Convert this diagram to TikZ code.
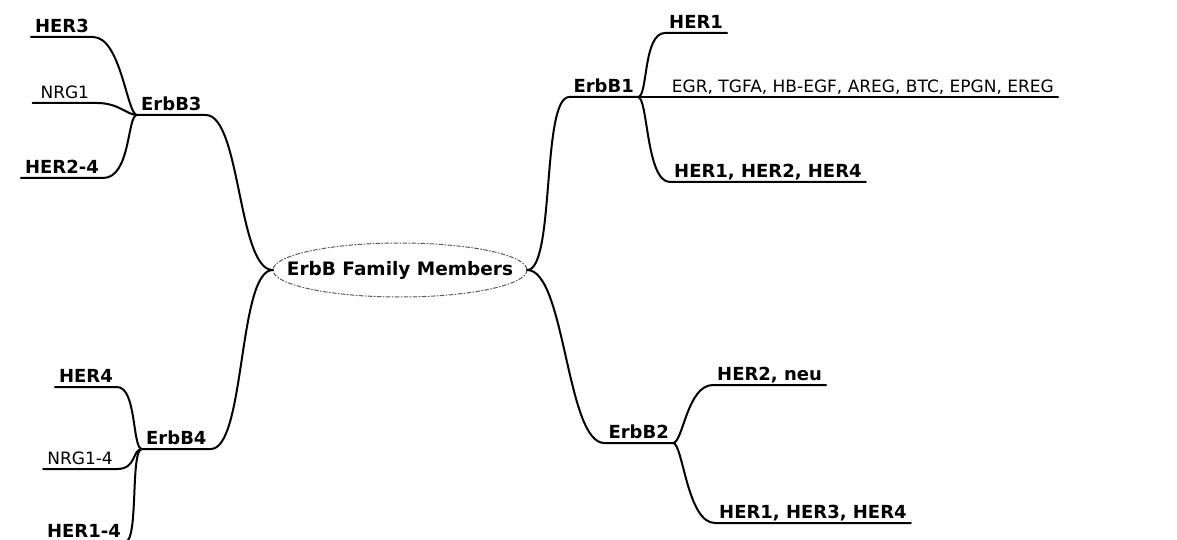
\documentclass[tikz,border=0pt]{standalone}
\usepackage{fontspec}
\setmainfont{DejaVu Sans}
\usetikzlibrary{positioning}

\begin{document}
\begin{tikzpicture}[x=1pt,y=-1pt,line cap=round,line join=round,
  hub/.style={font=\fontsize{18.5}{20}\bfseries,minimum width=254pt,minimum height=54pt,inner sep=0pt},
  topic/.style={font=\fontsize{18}{20}\bfseries,inner xsep=4pt,inner ysep=4pt,text depth=0pt},
  leaf/.style={font=\fontsize{18}{20}\bfseries,inner xsep=4pt,inner ysep=4pt,text depth=0pt},
  leafplain/.style={font=\fontsize{17}{20}\selectfont,inner xsep=4pt,inner ysep=4pt,text depth=0pt},
  link/.style={draw=black,line width=2pt}]
\useasboundingbox (0,0) rectangle (1177,540);
% centre
\node[hub] (hub) at (400,270) {ErbB Family Members};
\draw[draw=black!65,line width=1pt,dash pattern=on 4pt off 2pt on 1pt off 2pt] (hub.center) ellipse [x radius=127,y radius=27];
% main topics
\node[topic,anchor=south west] (b3) at (137,115) {ErbB3};
\node[topic,anchor=south west] (b4) at (142,449) {ErbB4};
\node[topic,anchor=south east] (b1) at (638,97) {ErbB1};
\node[topic,anchor=south east] (b2) at (673,443) {ErbB2};
% leaves of ErbB3
\node[leaf,anchor=south east] (her3) at (93,37) {HER3};
\node[leafplain,anchor=south east,minimum width=64pt] (nrg1) at (97,103) {NRG1};
\node[leaf,anchor=south east] (her24) at (103,178) {HER2-4};
% leaves of ErbB4
\node[leaf,anchor=south east] (her4) at (117,387) {HER4};
\node[leafplain,anchor=south east] (nrg14) at (117,469) {NRG1-4};
\node[leaf,anchor=south east] (her14) at (125,542) {HER1-4};
% leaves of ErbB1
\node[leaf,anchor=south west] (her1) at (665,33) {HER1};
\node[leafplain,anchor=south east] (egf) at (1058,97) {EGR, TGFA, HB-EGF, AREG, BTC, EPGN, EREG};
\node[leaf,anchor=south west] (her124) at (670,182) {HER1, HER2, HER4};
% leaves of ErbB2
\node[leaf,anchor=south west] (her2neu) at (713,385) {HER2, neu};
\node[leaf,anchor=south west] (her134) at (715,523) {HER1, HER3, HER4};

% centre to topics
\draw[link] (hub.west) .. controls +(-35,0) and +(35,0) .. (b3.south east) -- (b3.south west);
\draw[link] (hub.west) .. controls +(-35,0) and +(35,0) .. (b4.south east) -- (b4.south west);
\draw[link] (hub.east) .. controls +(28,0) and +(-28,0) .. (b1.south west) -- (b1.south east);
\draw[link] (hub.east) .. controls +(38,0) and +(-38,0) .. (b2.south west) -- (b2.south east);

% topics to leaves
\draw[link] (b3.south west) .. controls +(-10,0) and +(28,0) .. (her3.south east) -- (her3.south west);
\draw[link] (b3.south west) .. controls +(-10,0) and +(22,0) .. (nrg1.south east) -- (nrg1.south west);
\draw[link] (b3.south west) .. controls +(-10,0) and +(28,0) .. (her24.south east) -- (her24.south west);
\draw[link] (b4.south west) .. controls +(-10,0) and +(20,0) .. (her4.south east) -- (her4.south west);
\draw[link] (b4.south west) .. controls +(-10,0) and +(20,0) .. (nrg14.south east) -- (nrg14.south west);
\draw[link] (b4.south west) .. controls +(-12,0) and +(14,0) .. (her14.south east) -- (her14.south west);
\draw[link] (b1.south east) .. controls +(10,0) and +(-22,0) .. (her1.south west) -- (her1.south east);
\draw[link] (b1.south east) -- (egf.south east);
\draw[link] (b1.south east) .. controls +(10,0) and +(-24,0) .. (her124.south west) -- (her124.south east);
\draw[link] (b2.south east) .. controls +(10,0) and +(-26,0) .. (her2neu.south west) -- (her2neu.south east);
\draw[link] (b2.south east) .. controls +(10,0) and +(-28,0) .. (her134.south west) -- (her134.south east);
\end{tikzpicture}
\end{document}
